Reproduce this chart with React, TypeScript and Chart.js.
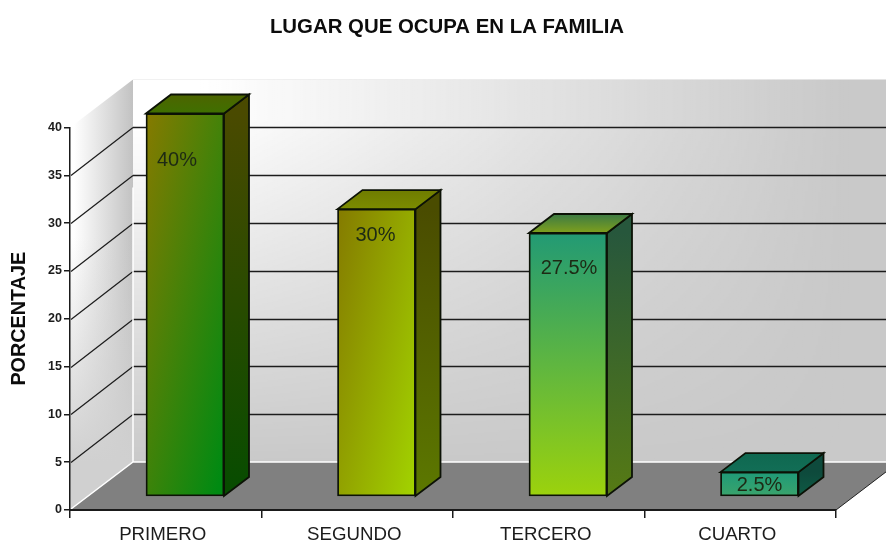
import React, { useEffect, useRef } from "react";
import { Chart, registerables } from "chart.js";

Chart.register(...registerables);

const chartTitle = "LUGAR QUE OCUPA EN LA FAMILIA";
const yTitle = "PORCENTAJE";
const categories = ["PRIMERO", "SEGUNDO", "TERCERO", "CUARTO"];
const percentages = [40, 30, 27.5, 2.5];
const valueLabels = ["40%", "30%", "27.5%", "2.5%"];

// styling
const FONT = '"Liberation Sans", Arial, sans-serif';
const DEPTH_X = 25;
const DEPTH_Y = 19;
const WALL_DX = 63;
const WALL_DY = 48;
const LABEL_NUDGE = [[-8, 47], [-1, 26], [1, 35], [0, 13.5]];
const FRONT_VECTORS = [[1.9, 0.086], [1.9, 0.11], [0, 1], [0, 1]];
const FRONT_COLORS = [["#867a00", "#008a12"], ["#847a00", "#a6de00"], ["#229a74", "#9cd20c"], ["#1f9a78", "#3aa46c"]];
const SIDE_COLORS = [["#4a4a00", "#064c00"], ["#4a4c00", "#5c7800"], ["#27573c", "#567a14"], ["#0e4a3c", "#0e5a44"]];
const TOP_COLORS = [["#4d6400", "#3f7000"], ["#6f7c00", "#7c8c00"], ["#3c7a44", "#7fa01c"], ["#0f6850", "#126e56"]];

// White glow of the wall: strong at the upper left, nothing at the lower right.
function wallGlow(w: number, h: number, xFrom: number, xTo: number, yFrom: number, yTo: number) {
  const c = document.createElement("canvas");
  c.width = w;
  c.height = h;
  const k = c.getContext("2d") as CanvasRenderingContext2D;
  let g = k.createLinearGradient(xFrom, 0, xTo, 0);
  g.addColorStop(0, "rgba(255,255,255,1)");
  g.addColorStop(1, "rgba(255,255,255,0)");
  k.fillStyle = g;
  k.fillRect(0, 0, w, h);
  k.globalCompositeOperation = "destination-in";
  g = k.createLinearGradient(0, yFrom, 0, yTo);
  g.addColorStop(0, "rgba(0,0,0,1)");
  g.addColorStop(1, "rgba(0,0,0,0)");
  k.fillStyle = g;
  k.fillRect(0, 0, w, h);
  return c;
}

const threeD = {
  id: "threeD",
  beforeDraw(chart: any) {
    const { ctx, width, height } = chart;
    const yS = chart.scales.y;
    const xS = chart.scales.x;
    const left = xS.left;
    const right = xS.right;
    const y0 = yS.getPixelForValue(0);
    const yTop = yS.getPixelForValue(40);
    const wallX = left + WALL_DX;
    const floorY = y0 - WALL_DY;
    const wallTop = yTop - WALL_DY;

    ctx.save();
    ctx.fillStyle = "#ffffff";
    ctx.fillRect(0, 0, width, height);

    // back wall
    ctx.fillStyle = "#c9c9c9";
    ctx.fillRect(wallX, wallTop, width - wallX, floorY - wallTop);
    ctx.save();
    ctx.beginPath();
    ctx.rect(wallX, wallTop, width - wallX, floorY - wallTop);
    ctx.clip();
    ctx.drawImage(wallGlow(width, height, 200, 850, 120, floorY + 3), 0, 0);
    ctx.restore();

    // left wall
    ctx.save();
    ctx.beginPath();
    ctx.moveTo(left, y0);
    ctx.lineTo(wallX, floorY);
    ctx.lineTo(wallX, wallTop);
    ctx.lineTo(left, yTop);
    ctx.closePath();
    ctx.clip();
    const g = ctx.createLinearGradient(left + 4, 0, wallX, 0);
    g.addColorStop(0, "#ffffff");
    g.addColorStop(1, "#c2c2c2");
    ctx.fillStyle = g;
    ctx.fillRect(left, wallTop, WALL_DX, y0 - wallTop);
    const g2 = ctx.createLinearGradient(0, yTop + 110, 0, floorY);
    g2.addColorStop(0, "rgba(208,208,208,0)");
    g2.addColorStop(1, "rgba(208,208,208,1)");
    ctx.fillStyle = g2;
    ctx.fillRect(left, wallTop, WALL_DX, y0 - wallTop);
    ctx.restore();

    // floor
    ctx.beginPath();
    ctx.moveTo(left, y0);
    ctx.lineTo(wallX, floorY);
    ctx.lineTo(width, floorY);
    ctx.lineTo(width, y0 - ((width - right) * WALL_DY) / WALL_DX);
    ctx.lineTo(right, y0);
    ctx.closePath();
    ctx.fillStyle = "#808080";
    ctx.fill();

    // grid lines on both walls
    ctx.strokeStyle = "#1c1c1c";
    yS.ticks.forEach((t: any) => {
      if (t.value <= 0 || t.value >= 40) return;
      const py = Math.round(yS.getPixelForValue(t.value)) + 0.5;
      ctx.lineWidth = 1.2;
      ctx.beginPath();
      ctx.moveTo(left + 1, py);
      ctx.lineTo(wallX, py - WALL_DY);
      ctx.stroke();
      ctx.lineWidth = 1.6;
      ctx.beginPath();
      ctx.moveTo(wallX, py - WALL_DY);
      ctx.lineTo(width, py - WALL_DY);
      ctx.stroke();
    });

    // white seams
    ctx.strokeStyle = "#ffffff";
    ctx.lineWidth = 1.5;
    ctx.beginPath();
    ctx.moveTo(left + 1, y0 - 1);
    ctx.lineTo(wallX, floorY);
    ctx.lineTo(width, floorY);
    ctx.moveTo(wallX, floorY);
    ctx.lineTo(wallX, yTop + 60);
    ctx.stroke();

    // right edge of the floor
    ctx.strokeStyle = "#222222";
    ctx.lineWidth = 1;
    ctx.beginPath();
    ctx.moveTo(right, y0);
    ctx.lineTo(width, y0 - ((width - right) * WALL_DY) / WALL_DX);
    ctx.stroke();
    ctx.restore();
  },
  beforeDatasetsDraw(chart: any) {
    const { ctx } = chart;
    const bars = chart.getDatasetMeta(0).data;
    ctx.save();
    ctx.lineWidth = 1.8;
    ctx.strokeStyle = "#0c1206";
    ctx.lineJoin = "miter";
    bars.forEach((b: any, i: number) => {
      const l = b.x - b.width / 2;
      const r = b.x + b.width / 2;
      const t = b.y;
      const bt = b.base;
      // side face
      let g = ctx.createLinearGradient(0, t, 0, bt);
      g.addColorStop(0, SIDE_COLORS[i][0]);
      g.addColorStop(1, SIDE_COLORS[i][1]);
      ctx.fillStyle = g;
      ctx.beginPath();
      ctx.moveTo(r, t);
      ctx.lineTo(r + DEPTH_X, t - DEPTH_Y);
      ctx.lineTo(r + DEPTH_X, bt - DEPTH_Y);
      ctx.lineTo(r, bt);
      ctx.closePath();
      ctx.fill();
      ctx.stroke();
      // top face
      g = ctx.createLinearGradient(0, t, 0, t - DEPTH_Y);
      g.addColorStop(0, TOP_COLORS[i][1]);
      g.addColorStop(1, TOP_COLORS[i][0]);
      ctx.fillStyle = g;
      ctx.beginPath();
      ctx.moveTo(l, t);
      ctx.lineTo(l + DEPTH_X, t - DEPTH_Y);
      ctx.lineTo(r + DEPTH_X, t - DEPTH_Y);
      ctx.lineTo(r, t);
      ctx.closePath();
      ctx.fill();
      ctx.stroke();
    });
    ctx.restore();
  },
  afterDatasetsDraw(chart: any) {
    const { ctx } = chart;
    const bars = chart.getDatasetMeta(0).data;
    ctx.save();
    ctx.font = `20px ${FONT}`;
    ctx.fillStyle = "#1d2a14";
    ctx.textAlign = "center";
    ctx.textBaseline = "middle";
    bars.forEach((b: any, i: number) => {
      ctx.fillText(valueLabels[i], b.x + LABEL_NUDGE[i][0], b.y + LABEL_NUDGE[i][1]);
    });
    ctx.restore();
  },
};

function frontFill(context: any) {
  const chart = context.chart;
  const i = context.dataIndex;
  if (!chart.chartArea || i === undefined) return FRONT_COLORS[0][0];
  const xS = chart.scales.xBars;
  const yS = chart.scales.yBars;
  const w = 78;
  const l = xS.getPixelForValue(i) - w / 2;
  const t = yS.getPixelForValue(percentages[i]);
  const h = yS.getPixelForValue(0) - t;
  const g = chart.ctx.createLinearGradient(l, t, l + FRONT_VECTORS[i][0] * w, t + FRONT_VECTORS[i][1] * h);
  g.addColorStop(0, FRONT_COLORS[i][0]);
  g.addColorStop(1, FRONT_COLORS[i][1]);
  return g;
}

export default function App() {
  const ref = useRef<HTMLCanvasElement>(null);
  useEffect(() => {
    const chart = new Chart(ref.current as HTMLCanvasElement, {
      type: "bar",
      data: {
        labels: categories,
        datasets: [
          {
            data: categories.map((_, i) => ({ x: i, y: percentages[i] })),
            xAxisID: "xBars",
            yAxisID: "yBars",
            backgroundColor: frontFill,
            borderColor: "#0c1206",
            borderWidth: 1.8,
            borderSkipped: false,
            barThickness: 78,
            clip: false,
          } as any,
        ],
      },
      options: {
        responsive: false,
        animation: false,
        layout: { padding: { left: 8, right: 0, top: 0, bottom: 0 } },
        plugins: {
          legend: { display: false },
          tooltip: { enabled: false },
          title: {
            display: true,
            text: chartTitle,
            color: "#0c0c0c",
            font: { family: FONT, size: 20.4, weight: "bold", lineHeight: 1.2 },
            padding: { top: 15, bottom: 88 },
          },
        },
        scales: {
          x: {
            type: "category",
            labels: categories,
            offset: true,
            position: "bottom",
            afterFit: (s: any) => { s.height = 32; },
            border: { display: true, color: "#1a1a1a", width: 2 },
            grid: { offset: true, drawOnChartArea: false, drawTicks: true, tickLength: 8, color: "#1a1a1a", lineWidth: 1.5 },
            ticks: { color: "#1c1c1c", padding: 6, maxRotation: 0, labelOffset: -3, font: { family: FONT, size: 18.7 } },
          },
          y: {
            type: "linear",
            position: "left",
            min: 0,
            max: 40,
            afterFit: (s: any) => { s.width = 62; },
            border: { display: true, color: "#1a1a1a", width: 1.5 },
            grid: { drawOnChartArea: false, drawTicks: true, tickLength: 6, color: "#1a1a1a", lineWidth: 1.5 },
            ticks: { stepSize: 5, color: "#1c1c1c", padding: 2, font: { family: FONT, size: 12.5, weight: "bold" } },
            title: {
              display: true,
              text: yTitle,
              color: "#0c0c0c",
              padding: 0,
              font: { family: FONT, size: 19.8, weight: "bold" },
            },
          },
          xBars: {
            type: "linear",
            axis: "x",
            display: false,
            offset: false,
            min: -0.6005,
            max: 3.3995,
          },
          yBars: {
            type: "linear",
            axis: "y",
            position: "right",
            display: false,
            min: -1.464,
            max: 38.536,
            afterFit: (s: any) => { s.width = 50; },
          },
        },
      } as any,
      plugins: [threeD],
    });
    return () => chart.destroy();
  }, []);
  return (
    <div style={{ position: "absolute", left: 0, top: 0, width: 886, height: 542, overflow: "hidden", background: "#fff" }}>
      <canvas ref={ref} width={886} height={542} style={{ display: "block" }} />
    </div>
  );
}
